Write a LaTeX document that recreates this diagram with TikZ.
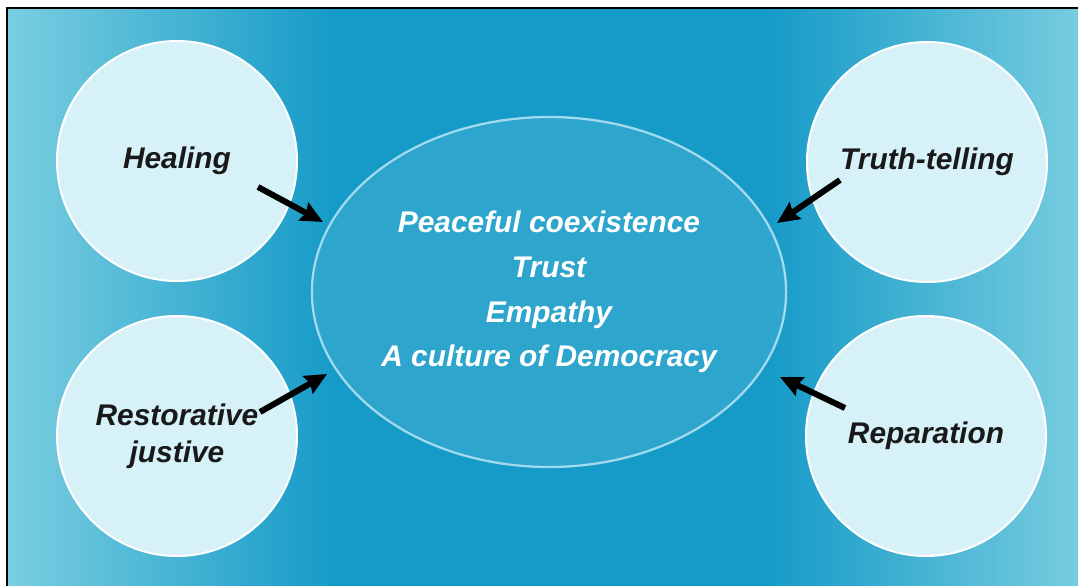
\documentclass[tikz,border=0pt]{standalone}
\usepackage{fontspec}
\setmainfont{Liberation Sans}
\usepackage{tikz}
\usetikzlibrary{arrows.meta, positioning, shapes.geometric}
\usepackage{xcolor}
\definecolor{bglight}{RGB}{122,206,224}
\definecolor{bgdark}{RGB}{22,155,200}
\definecolor{disc}{RGB}{214,241,247}

\begin{document}
\begin{tikzpicture}[x=0.2mm, y=-0.2mm, >={Stealth[length=4.4mm, width=4mm, inset=0.6mm]},
  lbl/.style={font=\bfseries\itshape\fontsize{17}{21}\selectfont, align=center},
  disc/.style={lbl, circle, minimum size=48mm, inner sep=0pt, fill=disc, draw=white, line width=0.4mm, text=black!90},
  pointer/.style={->, line width=1.2mm, black}]
\useasboundingbox (0,0) rectangle (1078,585);
\clip (0,0) rectangle (1078,585);
\fill[white] (0,0) rectangle (1078,585);
\shade[left color=bglight, right color=bgdark] (7,8) rectangle (331,600);
\fill[bgdark] (329,8) rectangle (771,600);
\shade[left color=bgdark, right color=bglight] (769,8) rectangle (1090,600);
\draw[line width=0.35mm] (7,600) -- (7,8) -- (1090,8);

\node[ellipse, minimum width=90.8mm, minimum height=70mm, inner sep=0pt,
  fill=white, fill opacity=0.1, text opacity=1, draw=white!85!cyan, draw opacity=0.7,
  line width=0.45mm, text=white, lbl, font=\bfseries\itshape\fontsize{17}{25.5}\selectfont]
  (C) at (549,292) {Peaceful coexistence\\Trust\\Empathy\\A culture of Democracy};

\node[disc] (H) at (177,161) {Healing};
\node[disc] (T) at (927,162) {Truth-telling};
\node[disc] (R) at (177,436) {Restorative\\justive};
\node[disc] (P) at (926,436) {Reparation};

\coordinate (H1) at (258,187); \coordinate (H2) at (323,222);
\coordinate (T1) at (840,180); \coordinate (T2) at (777,223);
\coordinate (R1) at (260,412); \coordinate (R2) at (327,374);
\coordinate (P1) at (845,408); \coordinate (P2) at (780,377);

\draw[pointer] (H1) -- (H2);
\draw[pointer] (T1) -- (T2);
\draw[pointer] (R1) -- (R2);
\draw[pointer] (P1) -- (P2);

\end{tikzpicture}
\end{document}
